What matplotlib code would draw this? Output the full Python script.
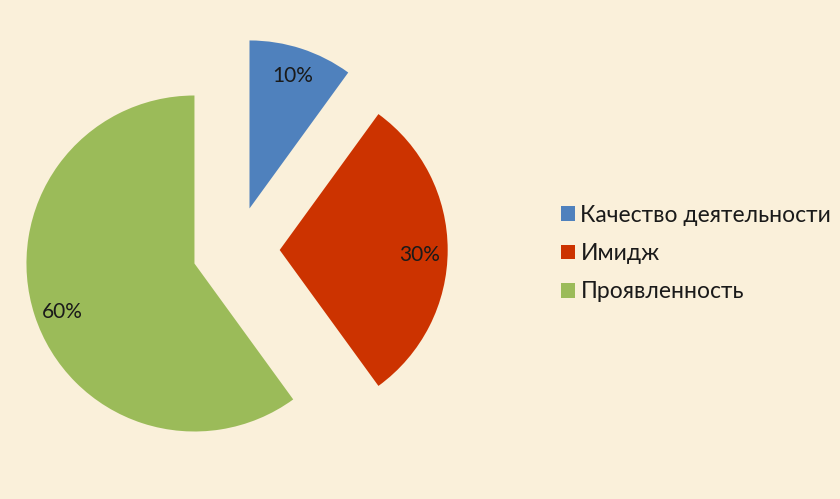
import matplotlib
matplotlib.use("Agg")
import matplotlib.pyplot as plt

# slice data
categories = ["Качество деятельности", "Имидж", "Проявленность"]
shares = [10, 30, 60]
explode = [0.26, 0.26, 0.26]
colors = ["#4F81BD", "#CC3300", "#9BBB59"]

bg = "#FAF0DA"
plt.rcParams["font.family"] = ["Lato", "DejaVu Sans"]

fig = plt.figure(figsize=(8.4, 4.99), dpi=100, facecolor=bg)
ax = fig.add_axes([0, 0, 1, 1])
ax.set_facecolor(bg)

# pie centre at pixel (236, 250), radius 168 px
cx, cy, r = 236, 250, 168
wedges, texts, autotexts = ax.pie(
    shares, explode=explode, colors=colors, startangle=90, counterclock=False,
    autopct="%d%%", pctdistance=0.83, radius=1,
    textprops=dict(fontsize=15, color="#1A1A1A"),
    wedgeprops=dict(linewidth=0))
# nudge percent labels a little lower, like the original
for t in autotexts[1:]:
    x, y = t.get_position()
    t.set_position((x, y - 5 / r))

ax.set_xlim(-cx / r, (840 - cx) / r)
ax.set_ylim(-(499 - cy) / r, cy / r)
ax.set_aspect("auto")
ax.axis("off")

leg = ax.legend(wedges, categories, loc="upper left",
                bbox_to_anchor=(561 / 840, 1 - 204.5 / 499),
                frameon=False, fontsize=16.5, handlelength=0.6,
                handleheight=0.6, handletextpad=0.25, labelspacing=0.76,
                borderpad=0, borderaxespad=0)
for t in leg.get_texts():
    t.set_color("#1A1A1A")

fig.savefig("out.png", dpi=100, facecolor=bg)
